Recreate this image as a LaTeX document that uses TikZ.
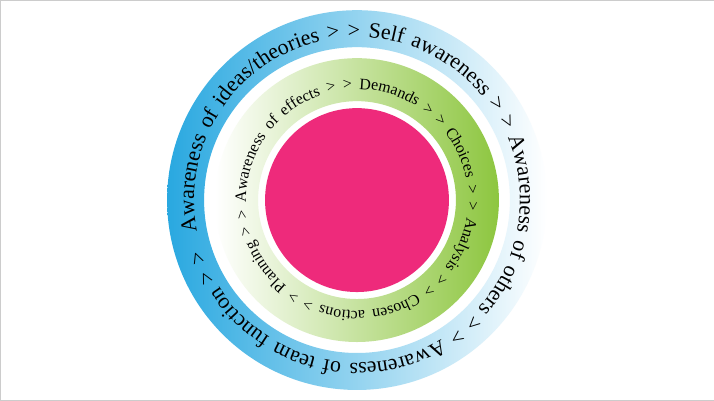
\documentclass[tikz,border=0pt]{standalone}
\usepackage{fontspec}
\setmainfont{Liberation Serif}
\usetikzlibrary{decorations.text}

\begin{document}
\begin{tikzpicture}[x=1bp,y=1bp]
      \tikzstyle{ringtext} = [decorate, decoration={text along path, text align=fit to path stretching spaces}]
      \definecolor{ringblue}{HTML}{29A8E0}
      \definecolor{ringgreen}{HTML}{8DC63F}
      \definecolor{hubpink}{HTML}{EE2A7B}

      \draw [black!20, fill=white] (-357,-200) rectangle (357,200);
      \path [left color=ringblue, right color=white, even odd rule] (0,0) circle (190) (0,0) circle (153);
      \path [left color=white, right color=ringgreen, even odd rule] (0,0) circle (142) (0,0) circle (99);
      \fill [hubpink] (0,0) circle (92);

      % outer ring
      \path [ringtext, decoration={text={|\fontsize{22}{22}\selectfont|Awareness of ideas/theories > > Self awareness > > Awareness of others > > Awareness of team function > >}}]
            (191:163) arc [start angle=191, end angle=-162, radius=163];
      % inner ring
      \path [ringtext, decoration={text={|\fontsize{16}{16}\selectfont|Awareness of effects > > Demands > > Choices > > Analysis > > Chosen actions > > Planning > >}}]
            (181:111) arc [start angle=181, end angle=-175, radius=111];
\end{tikzpicture}
\end{document}
